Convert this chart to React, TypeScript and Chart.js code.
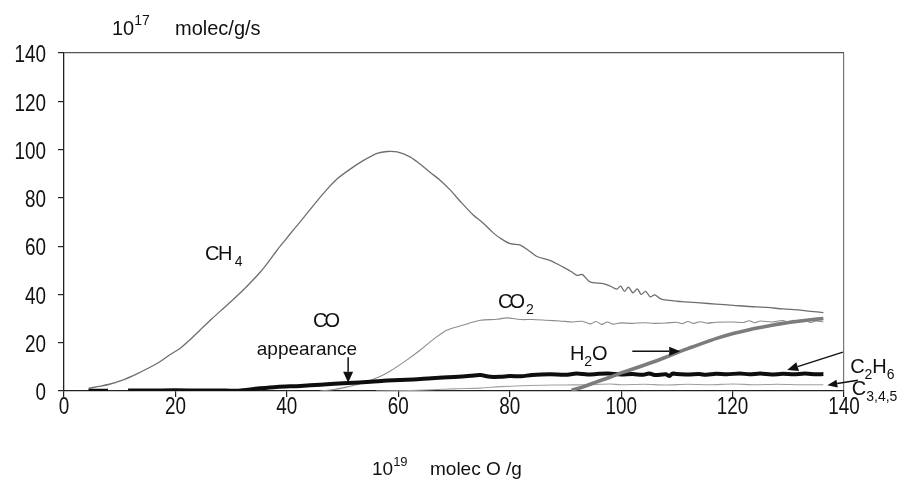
import React, { useEffect, useRef } from 'react';
import { Chart, registerables } from 'chart.js';

Chart.register(...registerables);

// Axis ticks (same values on both axes)
const xTicks = [0, 20, 40, 60, 80, 100, 120, 140];
const yTicks = [0, 20, 40, 60, 80, 100, 120, 140];

// Production rates, 10^17 molec/g/s versus 10^19 molec O/g
const ch4: [number, number][] = [
  [4.4, 1.1], [6, 1.8], [8.3, 2.9], [10.5, 4.5], [13, 7], [15, 9.3], [17.2, 12.1], [19, 15],
  [20.8, 17.6], [22.5, 21], [24.4, 25.2], [26.5, 29.8], [28.5, 34], [30.7, 38.6], [32.8, 43.3],
  [35.2, 49.2], [36.7, 53.5], [38.2, 58.2], [39.7, 62.5], [41.1, 66.5], [43, 71.8], [45, 77.5],
  [47, 83], [49, 87.8], [51.3, 91.8], [53.7, 95.4], [56.2, 98.4], [58, 99.2], [59.8, 99],
  [62.1, 97], [63.9, 94], [65.7, 90.6], [67.5, 87.3], [69.3, 83.3], [71.1, 78.6], [73.4, 73],
  [75.2, 69.6], [77, 65.6], [78.5, 63], [80.1, 61], [81.9, 60.4], [83.5, 58], [84.9, 55.7],
  [87.2, 54.1], [89.6, 51.3], [91, 49.5], [92.1, 47.9], [93, 48.3], [94.4, 45.2], [96.8, 44.5],
  [98, 43.5], [99.2, 42.2], [99.9, 43.4], [100.6, 41.3], [101.3, 43], [102.1, 40.7], [102.9, 42.3],
  [103.6, 40], [104.4, 41.3], [105.2, 39], [106, 39.8], [107, 38.3], [108.2, 37.6], [111, 37],
  [114.2, 36.5], [117, 36], [120.1, 35.5], [123, 35], [126.2, 34.6], [129, 34], [132.1, 33.5],
  [134, 33], [136.3, 32.5],
];

const co2: [number, number][] = [
  [46, 0], [48.5, 0.6], [50.5, 1.5], [52.5, 2.6], [54.3, 3.8], [56.5, 5.8], [58.5, 8.2],
  [61.5, 12.8], [63.9, 16.9], [66.3, 21.4], [68.7, 25.2], [71.7, 27.3], [74.7, 29.3], [77.7, 29.7],
  [79.5, 30.3], [81.9, 29.6], [84, 29.6], [86.6, 29.3], [89, 29], [91.4, 28.6], [93, 28.9],
  [94.5, 27.8], [95.5, 28.8], [96.5, 27.6], [97.5, 28.6], [98.5, 27.7], [100, 28.2], [102, 28],
  [104, 28.3], [106, 28], [108.2, 28.2], [110, 28.5], [111, 27.9], [112, 28.8], [113, 28],
  [114.2, 28.7], [115.5, 28.1], [117, 28.5], [120, 28.6], [122, 28.4], [123, 29.1], [124, 28.3],
  [125, 29], [127, 28.6], [129, 29.2], [130, 28.5], [131, 29.3], [132, 28.6], [133, 29.1],
  [134, 28.4], [135, 29], [136.3, 28.6],
];

const h2o: [number, number][] = [
  [91.1, 0.3], [93.5, 2], [95.6, 3.8], [98, 5.7], [100.1, 7.6], [102.5, 9.4], [105.2, 11.6],
  [108, 14], [110.6, 16.4], [112.5, 18], [114.2, 19.4], [117, 21.7], [120.1, 23.8], [123, 25.4],
  [126.1, 26.8], [129, 28], [132.1, 29], [134, 29.5], [136.3, 30],
];

const c2h6: [number, number | null][] = [
  [4.4, 0.1], [7.9, 0.1], [9.5, null], [11.5, 0.2], [15, 0.2], [20, 0.3], [25, 0.2], [29, 0.2],
  [31, 0.1], [33, 0.5], [35.2, 1.1], [38.2, 1.7], [42.4, 2.1], [46, 2.6], [51, 3.3], [55, 3.8],
  [58, 4.3], [62.7, 4.8], [66, 5.3], [70, 5.8], [73, 6.3], [74.7, 6.6], [76.5, 5.9], [78.3, 5.9],
  [80, 6.2], [82, 6.1], [84, 6.6], [87.2, 6.9], [90, 6.7], [92, 7.2], [94, 6.8], [96, 7.1],
  [97.7, 7.2], [100, 6.8], [102, 7], [104, 6.7], [105, 7.3], [106, 6.6], [108, 6.9], [108.7, 6.2],
  [109.2, 7.2], [110, 7], [112, 6.8], [114, 7], [115.3, 6.7], [117, 7.1], [119, 6.9], [121.3, 7.3],
  [123, 6.9], [125, 7.2], [127, 6.8], [129, 7.1], [131, 6.9], [133, 7.2], [135, 6.9], [136.3, 7],
];

const c345: [number, number][] = [
  [56, 0], [62, 0.2], [66, 0.5], [70, 0.9], [74.7, 1.2], [78.3, 1.8], [82, 2.2], [86, 2.4],
  [90, 2.5], [94, 2.6], [98, 2.9], [100, 2.6], [104, 2.8], [108, 2.5], [112, 2.8], [116, 2.6],
  [120, 2.9], [124, 2.6], [128, 2.8], [132, 2.6], [136.3, 2.6],
];

const TEXT_FONT = "'Liberation Sans', Arial, Helvetica, sans-serif";
const TICK_SIZE = 23;
const TICK_SQUEEZE = 0.82; // tick numbers use a condensed face

type Part = [string, 'n' | 'sub' | 'sup'];

function drawRich(ctx: CanvasRenderingContext2D, x: number, y: number, parts: Part[], size: number, spacing = 0) {
  let cx = x;
  for (const [text, kind] of parts) {
    const s = kind === 'n' ? size : Math.round(size * 0.68);
    const dy = kind === 'sub' ? size * 0.28 : kind === 'sup' ? -size * 0.48 : 0;
    ctx.font = `${s}px ${TEXT_FONT}`;
    (ctx as any).letterSpacing = kind === 'n' ? `${spacing}px` : '0px';
    ctx.fillText(text, cx, y + dy);
    cx += ctx.measureText(text).width;
  }
  (ctx as any).letterSpacing = '0px';
}

function arrow(ctx: CanvasRenderingContext2D, x1: number, y1: number, x2: number, y2: number, head = 10, half = 4.5) {
  const a = Math.atan2(y2 - y1, x2 - x1);
  const bx = x2 - head * Math.cos(a);
  const by = y2 - head * Math.sin(a);
  ctx.beginPath();
  ctx.moveTo(x1, y1);
  ctx.lineTo(bx, by);
  ctx.stroke();
  ctx.beginPath();
  ctx.moveTo(x2, y2);
  ctx.lineTo(bx + half * Math.sin(a), by - half * Math.cos(a));
  ctx.lineTo(bx - half * Math.sin(a), by + half * Math.cos(a));
  ctx.closePath();
  ctx.fill();
}

function condensedText(ctx: CanvasRenderingContext2D, text: string, x: number, y: number, align: CanvasTextAlign) {
  ctx.save();
  ctx.translate(x, y);
  ctx.scale(TICK_SQUEEZE, 1);
  ctx.textAlign = align;
  ctx.textBaseline = 'middle';
  ctx.font = `${TICK_SIZE}px ${TEXT_FONT}`;
  ctx.fillText(text, 0, 0);
  ctx.restore();
}

// Tick numbers placed from the scales' own ticks, drawn in a condensed width
const tickNumbers = {
  id: 'tickNumbers',
  afterDraw(chart: any) {
    const { ctx, chartArea, scales } = chart;
    ctx.save();
    ctx.fillStyle = '#111';
    for (const t of scales.y.ticks) {
      condensedText(ctx, String(t.value), chartArea.left - 18, scales.y.getPixelForValue(t.value) + 3, 'right');
    }
    for (const t of scales.x.ticks) {
      condensedText(ctx, String(t.value), scales.x.getPixelForValue(t.value), chartArea.bottom + 17, 'center');
    }
    ctx.restore();
  },
};

const annotations = {
  id: 'speciesLabels',
  afterDraw(chart: any) {
    const { ctx, chartArea, scales } = chart;
    const X = (v: number) => scales.x.getPixelForValue(v);
    const Y = (v: number) => scales.y.getPixelForValue(v);
    ctx.save();
    ctx.fillStyle = '#111';
    ctx.strokeStyle = '#111';
    ctx.lineWidth = 1.5;
    ctx.textBaseline = 'alphabetic';
    ctx.textAlign = 'left';

    // axis units
    drawRich(ctx, chartArea.left + 48, chartArea.top - 18, [['10', 'n'], ['17', 'sup']], 20);
    drawRich(ctx, chartArea.left + 111, chartArea.top - 18, [['molec/g/s', 'n']], 20);
    const midX = (chartArea.left + chartArea.right) / 2;
    drawRich(ctx, midX - 82, chartArea.bottom + 84, [['10', 'n'], ['19', 'sup']], 19);
    drawRich(ctx, midX - 24, chartArea.bottom + 84, [['molec O /g', 'n']], 19);

    // species labels
    drawRich(ctx, X(25.3), Y(54.1), [['CH', 'n'], [' 4', 'sub']], 20, -1.5);
    drawRich(ctx, X(44.7), Y(26.4), [['CO', 'n']], 20, -3);
    drawRich(ctx, X(34.6), Y(14.9), [['appearance', 'n']], 19);
    drawRich(ctx, X(77.9), Y(34.3), [['CO', 'n'], [' 2', 'sub']], 20, -3);
    drawRich(ctx, X(90.8), Y(12.8), [['H', 'n'], ['2', 'sub'], ['O', 'n']], 20);
    drawRich(ctx, X(141.1), Y(7.4), [['C', 'n'], ['2', 'sub'], ['H', 'n'], ['6', 'sub']], 20);
    drawRich(ctx, X(141.4), Y(-1.7), [['C', 'n'], ['3,4,5', 'sub']], 20);

    // pointer arrows
    arrow(ctx, X(51), Y(14), X(51), Y(3.4), 11, 5);
    arrow(ctx, X(102), Y(16.5), X(110.6), Y(16.5), 11, 4.5);
    arrow(ctx, X(139.8), Y(16.1), X(129.8), Y(8.7), 11, 4.5);
    arrow(ctx, X(142.5), Y(4.5), X(137), Y(2.4), 10, 4);
    ctx.restore();
  },
};

const toXY = (pts: [number, number | null][]) => pts.map(([x, y]) => ({ x, y }));

export default function App() {
  const canvasRef = useRef<HTMLCanvasElement | null>(null);

  useEffect(() => {
    const canvas = canvasRef.current;
    if (!canvas) return;
    const line = (label: string, pts: [number, number | null][], color: string, width: number) => ({
      label,
      data: toXY(pts),
      borderColor: color,
      backgroundColor: color,
      borderWidth: width,
      pointRadius: 0,
      tension: 0.3,
      fill: false,
      spanGaps: false,
    });
    const chart = new Chart(canvas, {
      type: 'line',
      data: {
        datasets: [
          line('H2O', h2o, '#7c7c7c', 3.6),
          line('C2H6', c2h6, '#0e0e0e', 4),
          line('CH4', ch4, '#6e6e6e', 1.3),
          line('CO2', co2, '#8c8c8c', 1.1),
          line('C3,4,5', c345, '#a0a0a0', 1.1),
        ] as any,
      },
      options: {
        responsive: false,
        animation: false,
        devicePixelRatio: 1,
        layout: { padding: { left: 0, top: 53, right: 65, bottom: 0 } },
        plugins: { legend: { display: false }, tooltip: { enabled: false } },
        scales: {
          x: {
            type: 'linear',
            min: xTicks[0],
            max: xTicks[xTicks.length - 1],
            afterBuildTicks: (s: any) => { s.ticks = xTicks.map((v) => ({ value: v })); },
            afterFit: (s: any) => { s.height = 89; },
            ticks: { display: false },
            grid: {
              color: (c: any) => (c.tick && c.tick.value === 140 ? '#777' : 'rgba(0,0,0,0)'),
              tickColor: '#222',
              tickLength: 6,
              lineWidth: 1.2,
            },
            border: { display: true, color: '#222', width: 1.3 },
          },
          y: {
            type: 'linear',
            min: yTicks[0],
            max: yTicks[yTicks.length - 1],
            afterBuildTicks: (s: any) => { s.ticks = yTicks.map((v) => ({ value: v })); },
            afterFit: (s: any) => { s.width = 64; },
            ticks: { display: false },
            grid: {
              color: (c: any) => (c.tick && c.tick.value === 140 ? '#555' : 'rgba(0,0,0,0)'),
              tickColor: '#222',
              tickLength: 6,
              lineWidth: 1.2,
            },
            border: { display: true, color: '#222', width: 1.3 },
          },
        },
      } as any,
      plugins: [tickNumbers, annotations],
    });
    return () => chart.destroy();
  }, []);

  return (
    <div style={{ position: 'fixed', left: 0, top: 0, width: 909, height: 480, background: '#fff' }}>
      <canvas ref={canvasRef} width={909} height={480} style={{ width: 909, height: 480 }} />
    </div>
  );
}
